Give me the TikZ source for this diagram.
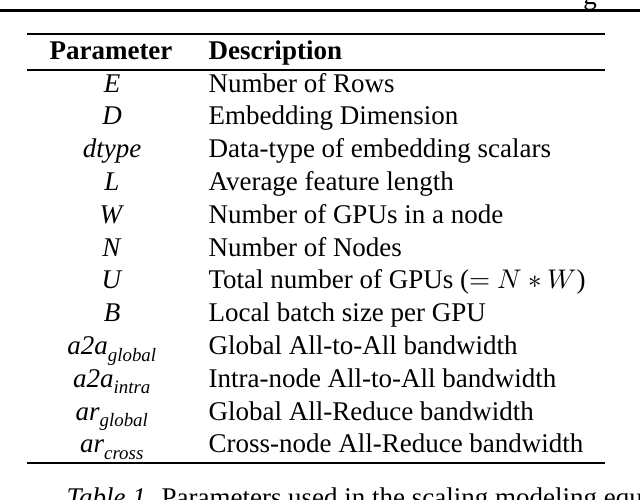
\documentclass[tikz,border=0pt]{standalone}
\usepackage{fontspec}
\setmainfont{Liberation Serif}
\usepackage{unicode-math}
\setmathfont{Latin Modern Math}
\begin{document}
\begin{tikzpicture}[x=1pt,y=-1pt,
  par/.style={anchor=base,font=\fontsize{27}{30}\selectfont},
  desc/.style={anchor=base west,font=\fontsize{27}{30}\selectfont},
  rule/.style={line width=1.3pt}]
\useasboundingbox (0,0) rectangle (640,499);
\clip (0,0) rectangle (640,499);
\draw[line width=3pt] (0,10) -- (640,10);
\node[anchor=base,font=\fontsize{27}{30}\selectfont] (top) at (590,4) {g};
\draw[rule] (27,34) -- (605,34);
\draw[rule] (27,70) -- (605,70);
\draw[rule] (27,463) -- (605,463);
\node[anchor=base,font=\fontsize{27}{30}\selectfont\bfseries] (hp) at (111,59) {Parameter};
\node[anchor=base west,font=\fontsize{27}{30}\selectfont\bfseries] (hd) at (205,59) {Description};
\foreach \i/\p/\d in {
 0/{\textit{E}}/{Number of Rows},
 1/{\textit{D}}/{Embedding Dimension},
 2/{\textit{dtype}}/{Data-type of embedding scalars},
 3/{\textit{L}}/{Average feature length},
 4/{\textit{W}}/{Number of GPUs in a node},
 5/{\textit{N}}/{Number of Nodes},
 6/{\textit{U}}/{Total number of GPUs ($=N*W$)},
 7/{\textit{B}}/{Local batch size per GPU},
 8/{\textit{a2a}$_{\textit{global}}$}/{Global All-to-All bandwidth},
 9/{\textit{a2a}$_{\textit{intra}}$}/{Intra-node All-to-All bandwidth},
 10/{\textit{ar}$_{\textit{global}}$}/{Global All-Reduce bandwidth},
 11/{\textit{ar}$_{\textit{cross}}$}/{Cross-node All-Reduce bandwidth}}{
  \node[par] (p\i) at (112,{92+\i*32.8}) {\p};
  \node[desc] (d\i) at (205,{92+\i*32.8}) {\d};
}
\node[anchor=base west,font=\fontsize{27}{30}\selectfont] (cap) at (63,506) {\textit{Table 1.} Parameters used in the scaling modeling equations.};
\end{tikzpicture}
\end{document}
